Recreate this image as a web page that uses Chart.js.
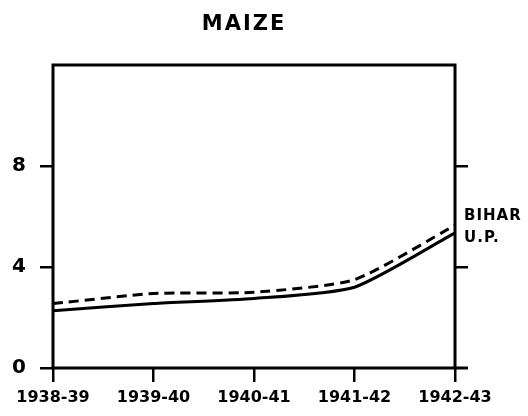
<!DOCTYPE html>
<html>
<head>
<meta charset="utf-8">
<script src="https://cdn.jsdelivr.net/npm/chart.js@4"></script>
<style>
  html, body { margin: 0; padding: 0; background: #fff; }
</style>
</head>
<body>
<canvas id="maizeGraph" width="528" height="416"></canvas>
<script>
// Dados
const anos = ['1938-39', '1939-40', '1940-41', '1941-42', '1942-43'];
const bihar = [2.55, 2.95, 3.0, 3.5, 5.65];
const up = [2.27, 2.55, 2.75, 3.2, 5.35];
const yTicks = [0, 4, 8];

// titulo e nomes das linhas
const textos = {
    id: 'textos',
    afterDraw(chart) {
        const c = chart.ctx;
        const area = chart.chartArea;
        const y = chart.scales.y;
        c.save();
        c.fillStyle = '#000';
        c.textBaseline = 'middle';
        c.font = 'bold 21px "DejaVu Sans"';
        c.letterSpacing = '2px';
        c.textAlign = 'center';
        c.fillText('MAIZE', 244, 25);
        c.font = 'bold 15px "DejaVu Sans"';
        c.letterSpacing = '1px';
        c.textAlign = 'left';
        c.fillText('BIHAR', area.right + 9, y.getPixelForValue(bihar[bihar.length - 1]) - 9);
        c.fillText('U.P.', area.right + 9, y.getPixelForValue(up[up.length - 1]) + 5);
        c.restore();
    }
};

// moldura
const moldura = {
    id: 'moldura',
    beforeDatasetsDraw(chart) {
        const c = chart.ctx;
        const a = chart.chartArea;
        c.save();
        c.strokeStyle = '#000';
        c.lineWidth = 3;
        c.strokeRect(a.left, a.top, a.right - a.left, a.bottom - a.top);
        c.beginPath();
        c.moveTo(a.right, a.bottom);
        c.lineTo(a.right + 13, a.bottom);
        c.stroke();
        c.restore();
    }
};

const tickColor = (ctx) => (yTicks.includes(ctx.tick.value) ? '#000' : 'transparent');

const ctx = document.getElementById('maizeGraph').getContext('2d');

const maizeGraph = new Chart(ctx, {
    type: 'line',
    data: {
        labels: anos,
        datasets: [{
            label: 'BIHAR',
            data: bihar,
            borderWidth: 3,
            borderColor: '#000',
            borderDash: [10, 6],
            backgroundColor: 'transparent',
            pointRadius: 0,
            tension: 0.2
        }, {
            label: 'U.P.',
            data: up,
            borderWidth: 3,
            borderColor: '#000',
            backgroundColor: 'transparent',
            pointRadius: 0,
            tension: 0.2
        }]
    },
    options: {
        responsive: false,
        animation: false,
        layout: {
            padding: { top: 65, right: 63, left: 0, bottom: 0 }
        },
        plugins: {
            legend: { display: false },
            tooltip: { enabled: false }
        },
        scales: {
            x: {
                offset: false,
                afterFit(scale) { scale.height = 48; },
                border: { display: false },
                grid: {
                    drawOnChartArea: false,
                    tickLength: 14,
                    lineWidth: 2.5,
                    color: '#000'
                },
                ticks: {
                    color: '#000',
                    padding: 6,
                    maxRotation: 0,
                    autoSkip: false,
                    font: { family: 'DejaVu Sans', size: 16, weight: 'bold' }
                }
            },
            y: {
                min: 0,
                max: 12,
                afterFit(scale) { scale.width = 53; },
                afterBuildTicks(scale) { scale.ticks = [0, 4, 8, 12].map(v => ({ value: v })); },
                border: { display: false },
                grid: {
                    drawOnChartArea: false,
                    tickLength: 13,
                    lineWidth: 2.5,
                    color: tickColor
                },
                ticks: {
                    color: '#000',
                    padding: 14,
                    callback: (v) => (yTicks.includes(v) ? v : ''),
                    font: { family: 'DejaVu Sans', size: 20, weight: 'bold' }
                }
            },
            y2: {
                position: 'right',
                min: 0,
                max: 12,
                afterFit(scale) { scale.width = 10; },
                afterBuildTicks(scale) { scale.ticks = [0, 4, 8, 12].map(v => ({ value: v })); },
                border: { display: false },
                grid: {
                    drawOnChartArea: false,
                    tickLength: 13,
                    lineWidth: 2.5,
                    color: (c) => (c.tick.value === 4 || c.tick.value === 8 ? '#000' : 'transparent')
                },
                ticks: { display: false }
            }
        }
    },
    plugins: [moldura, textos]
});
</script>
</body>
</html>
